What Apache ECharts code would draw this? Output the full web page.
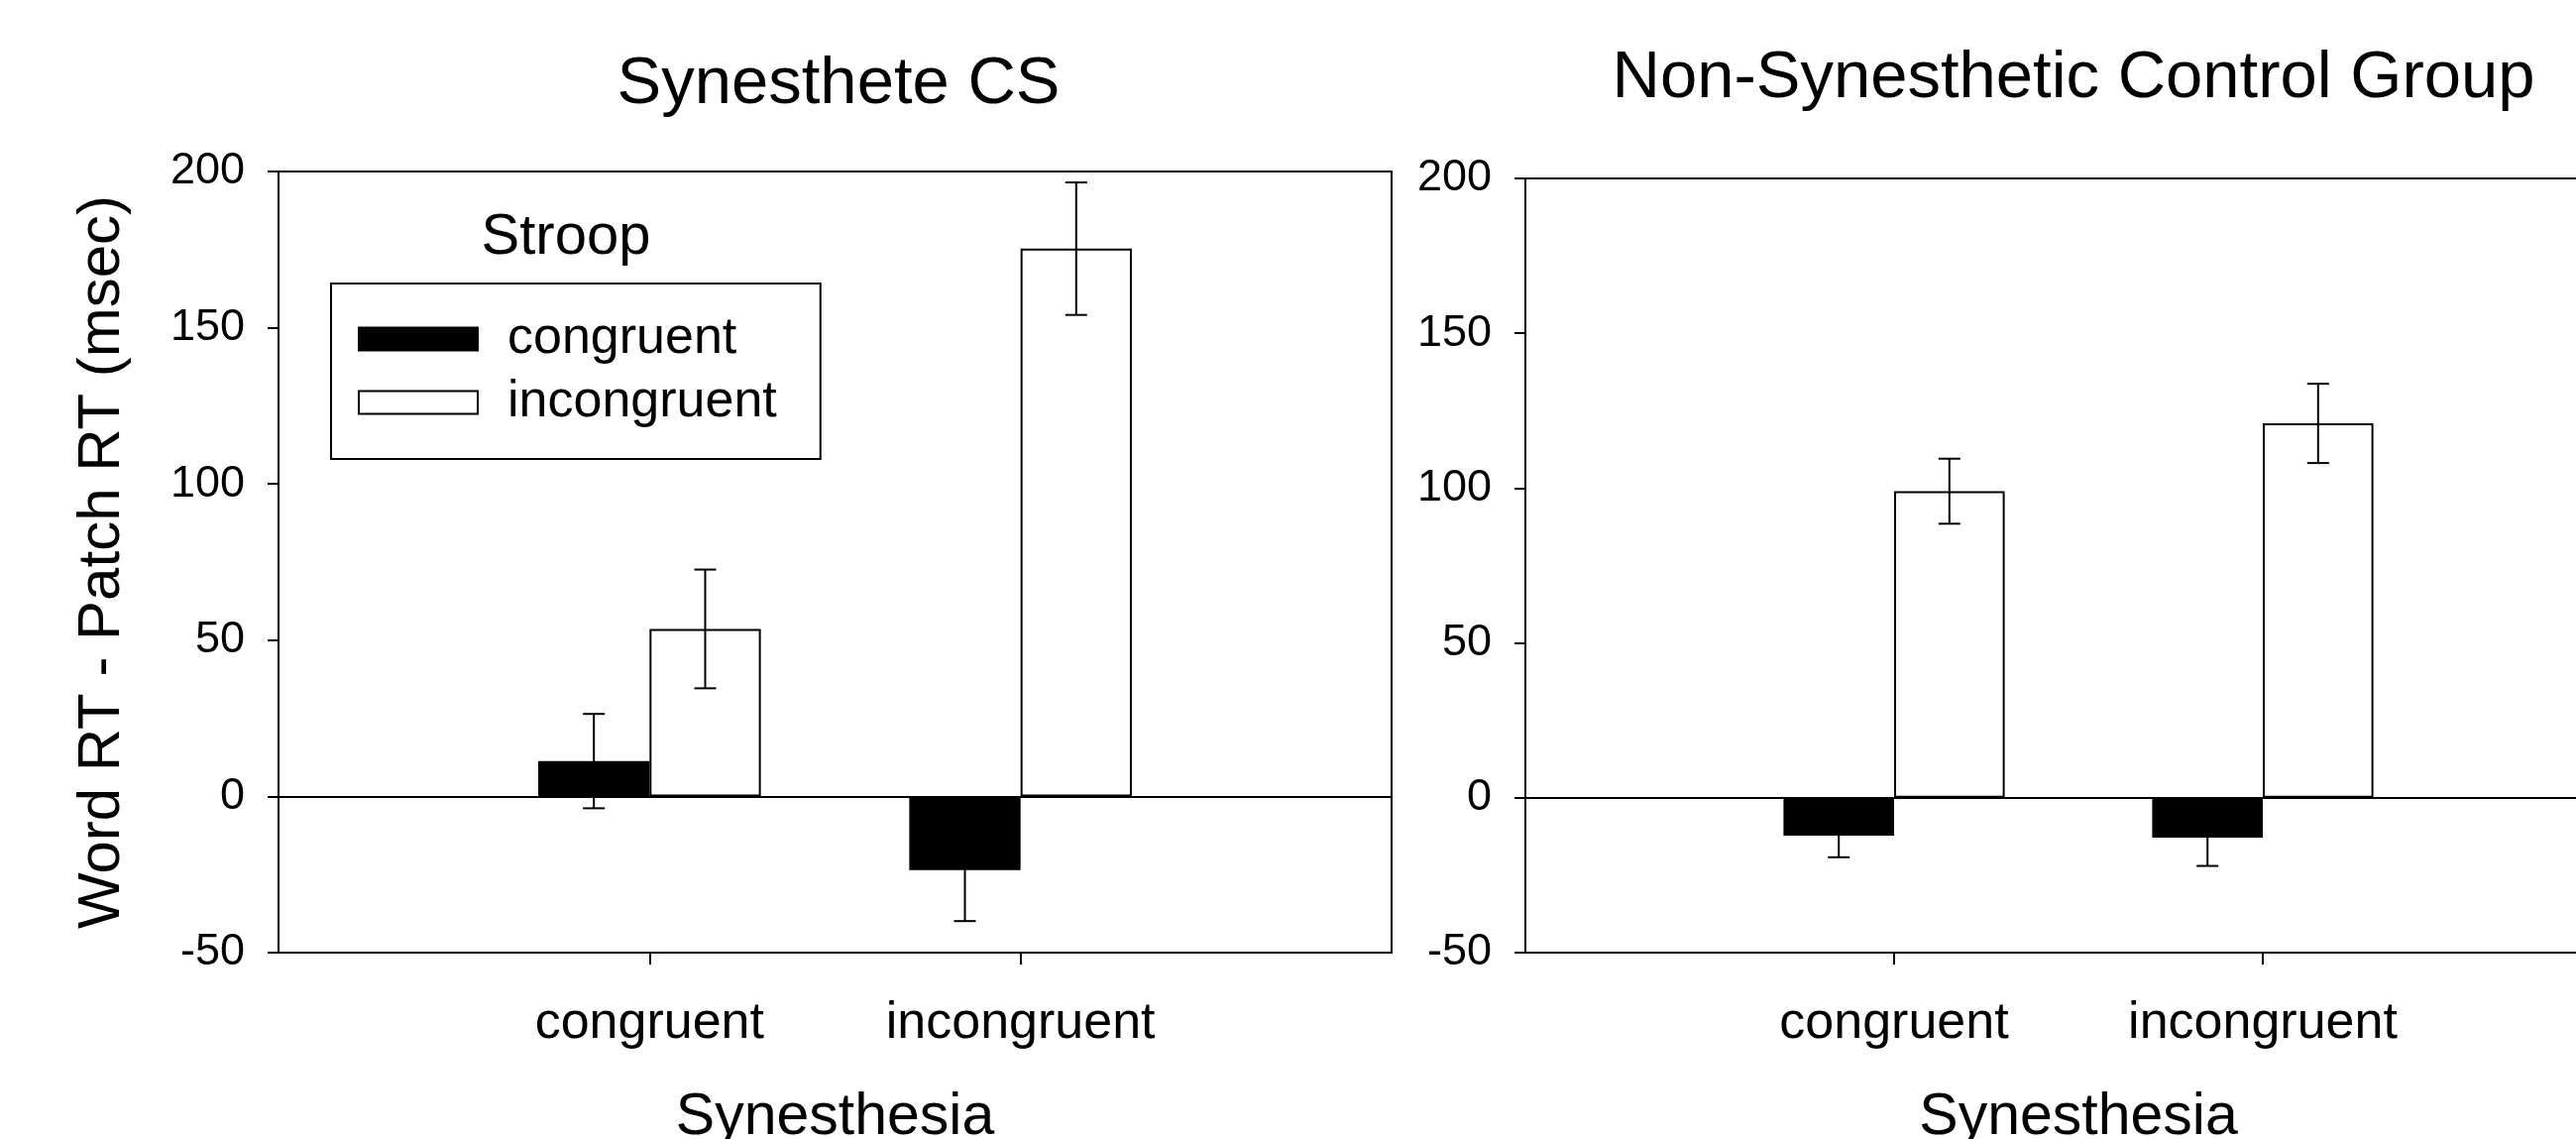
<!DOCTYPE html>
<html>
<head>
<meta charset="utf-8">
<script src="https://cdn.jsdelivr.net/npm/echarts@6/dist/echarts.min.js"></script>
<style>
html,body{margin:0;padding:0;background:#fff;}
#chart{width:2599px;height:1149px;}
</style>
</head>
<body>
<div id="chart"></div>
<script>
const categories = ['congruent', 'incongruent'];
const seriesNames = ['congruent', 'incongruent'];
const panelTitles = ['Synesthete CS', 'Non-Synesthetic Control Group'];
const yMin = -50, yMax = 200, yInterval = 50;

// Synesthete CS
const csCongruent = [11.3, -23.6];
const csIncongruent = [53.6, 175.3];
const csCongruentErr = [15.1, 16.3];
const csIncongruentErr = [19.0, 21.2];

// Non-synesthetic controls
const ctrlCongruent = [-12.2, -12.9];
const ctrlIncongruent = [99.0, 120.9];
const ctrlCongruentErr = [7.0, 9.1];
const ctrlIncongruentErr = [10.5, 12.8];

const FONT = "'Liberation Sans', Arial, sans-serif";
const BLACK = '#000';
const axisCats = [''].concat(categories, ['']);
const pad = arr => [null].concat(arr, [null]);

function errData(cong, congErr, incong, incongErr) {
  const out = [];
  categories.forEach((c, i) => {
    out.push([i + 1, cong[i], congErr[i], -1]);
    out.push([i + 1, incong[i], incongErr[i], 1]);
  });
  return out;
}

function renderErr(params, api) {
  const x = api.value(0), m = api.value(1), e = api.value(2), s = api.value(3);
  const band = api.size([1, 0])[0];
  const off = s * band * 0.15;
  const hi = api.coord([x, m + e]);
  const lo = api.coord([x, m - e]);
  const cx = hi[0] + off;
  const cap = 11;
  const st = { stroke: BLACK, lineWidth: 2 };
  return {
    type: 'group',
    children: [
      { type: 'line', shape: { x1: cx, y1: hi[1], x2: cx, y2: lo[1] }, style: st },
      { type: 'line', shape: { x1: cx - cap, y1: hi[1], x2: cx + cap, y2: hi[1] }, style: st },
      { type: 'line', shape: { x1: cx - cap, y1: lo[1], x2: cx + cap, y2: lo[1] }, style: st }
    ]
  };
}

function makeXAxis(i) {
  return {
    type: 'category', gridIndex: i, data: axisCats, boundaryGap: false, position: 'bottom',
    axisLine: { show: true, onZero: false, lineStyle: { color: BLACK, width: 2 } },
    axisTick: { show: true, length: 12, inside: false, interval: (idx) => idx === 1 || idx === 2,
      lineStyle: { color: BLACK, width: 2 } },
    axisLabel: { interval: 0, margin: 46, fontSize: 52, color: BLACK, fontFamily: FONT },
    name: 'Synesthesia', nameLocation: 'middle', nameGap: 137,
    nameTextStyle: { fontSize: 59, color: BLACK, fontFamily: FONT },
    splitLine: { show: false }
  };
}

function makeYAxis(i, withName) {
  const ax = {
    type: 'value', gridIndex: i, min: yMin, max: yMax, interval: yInterval,
    axisLine: { show: true, lineStyle: { color: BLACK, width: 2 } },
    axisTick: { show: true, length: 11, inside: false, lineStyle: { color: BLACK, width: 2 } },
    axisLabel: { margin: 34, fontSize: 45, color: BLACK, fontFamily: FONT },
    splitLine: { show: false }
  };
  if (withName) {
    ax.name = 'Word RT - Patch RT (msec)';
    ax.nameLocation = 'middle';
    ax.nameGap = 148;
    ax.nameTextStyle = { fontSize: 60, color: BLACK, fontFamily: FONT };
  }
  return ax;
}

const zeroLine = {
  symbol: ['none', 'none'], silent: true, label: { show: false },
  lineStyle: { color: BLACK, width: 2, type: 'solid' },
  emphasis: { disabled: true },
  data: [{ yAxis: 0 }]
};

function barSeries(name, gi, data, fill, withZero) {
  const s = {
    type: 'bar', name: name, xAxisIndex: gi, yAxisIndex: gi, data: pad(data),
    barWidth: '30%', barGap: '0%', z: 2,
    itemStyle: { color: fill, borderColor: BLACK, borderWidth: 2 },
    emphasis: { disabled: true }
  };
  if (withZero) s.markLine = zeroLine;
  return s;
}

const option = {
  backgroundColor: '#fff',
  animation: false,
  textStyle: { fontFamily: FONT },
  title: [
    { text: panelTitles[0], left: 846, top: 86, textAlign: 'center', textVerticalAlign: 'middle', padding: 0,
      textStyle: { fontSize: 67, lineHeight: 67, fontWeight: 'normal', color: BLACK, fontFamily: FONT } },
    { text: panelTitles[1], left: 2092, top: 80, textAlign: 'center', textVerticalAlign: 'middle', padding: 0,
      textStyle: { fontSize: 67, lineHeight: 67, fontWeight: 'normal', color: BLACK, fontFamily: FONT } },
    { text: 'Stroop', left: 571, top: 240, textAlign: 'center', textVerticalAlign: 'middle', padding: 0,
      textStyle: { fontSize: 58, lineHeight: 58, fontWeight: 'normal', color: BLACK, fontFamily: FONT } }
  ],
  legend: {
    orient: 'vertical', left: 334, top: 286, itemWidth: 120, itemHeight: 23, itemGap: 4,
    padding: [26, 44, 27, 27], borderColor: BLACK, borderWidth: 2, borderRadius: 0,
    selectedMode: false, icon: 'rect',
    textStyle: { fontSize: 52, lineHeight: 52, color: BLACK, fontFamily: FONT, padding: [8, 0, 0, 25] },
    data: [
      { name: seriesNames[0], icon: 'rect', itemStyle: { color: BLACK, borderColor: BLACK, borderWidth: 2 } },
      { name: seriesNames[1], icon: 'rect', itemStyle: { color: '#fff', borderColor: BLACK, borderWidth: 2 } }
    ]
  },
  grid: [
    { left: 281, top: 173, width: 1123, height: 788, show: true, borderColor: BLACK, borderWidth: 2,
      backgroundColor: 'transparent', containLabel: false, outerBoundsMode: 'none' },
    { left: 1539, top: 180, width: 1116, height: 781, show: true, borderColor: BLACK, borderWidth: 2,
      backgroundColor: 'transparent', containLabel: false, outerBoundsMode: 'none' }
  ],
  xAxis: [makeXAxis(0), makeXAxis(1)],
  yAxis: [makeYAxis(0, true), makeYAxis(1, false)],
  series: [
    barSeries(seriesNames[0], 0, csCongruent, BLACK, true),
    barSeries(seriesNames[1], 0, csIncongruent, '#fff', false),
    barSeries(seriesNames[0], 1, ctrlCongruent, BLACK, true),
    barSeries(seriesNames[1], 1, ctrlIncongruent, '#fff', false),
    { type: 'custom', name: 'err-cs', xAxisIndex: 0, yAxisIndex: 0, z: 5, silent: true,
      encode: { x: 0, y: 1 }, renderItem: renderErr,
      data: errData(csCongruent, csCongruentErr, csIncongruent, csIncongruentErr) },
    { type: 'custom', name: 'err-ctrl', xAxisIndex: 1, yAxisIndex: 1, z: 5, silent: true,
      encode: { x: 0, y: 1 }, renderItem: renderErr,
      data: errData(ctrlCongruent, ctrlCongruentErr, ctrlIncongruent, ctrlIncongruentErr) }
  ]
};

const chart = echarts.init(document.getElementById('chart'), null, { renderer: 'canvas' });
chart.setOption(option);
</script>
</body>
</html>
